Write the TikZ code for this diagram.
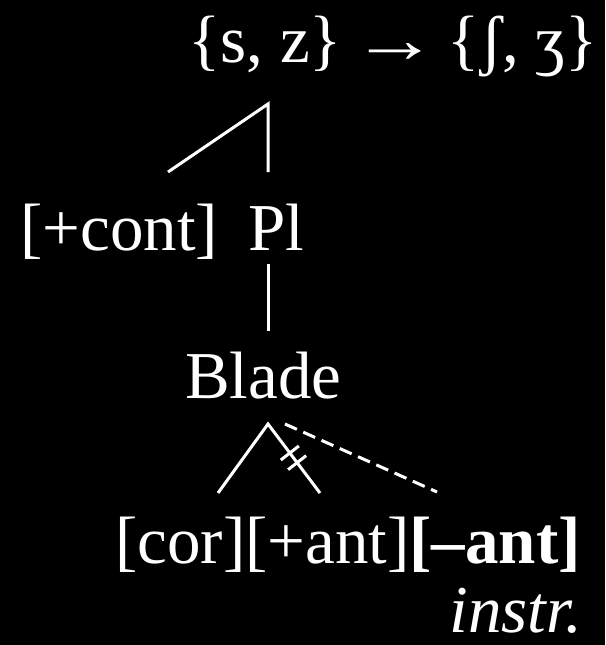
\documentclass[tikz,border=0pt]{standalone}
\usepackage{graphicx}
\usepackage{fontspec}
\setmainfont{Liberation Serif}
\usetikzlibrary{calc}

\begin{document}
\begin{tikzpicture}[x=1pt, y=-1pt,
    feat/.style={text=white, inner sep=0pt, anchor=base west,
                 font=\fontsize{67}{72}\selectfont},
    branch/.style={white, line width=3pt},
    delink/.style={white, line width=3pt, dash pattern=on 13pt off 7pt}
]
    % background and page size
    \fill[black] (0,0) rectangle (605,645);
    \useasboundingbox (0,0) rectangle (605,645);

    % labels
    \node[feat, anchor=base east] (rule) at (598,62)
        {\{s, z\}\hspace{0.14em}\scalebox{1.3}[1]{→}\hspace{0.14em}\{ʃ, ʒ\}};
    \node[feat] (cont)  at (20,250)  {[+cont]};
    \node[feat] (pl)    at (248,250) {Pl};
    \node[feat] (blade) at (185,398) {Blade};
    \node[feat] (feats) at (115,563) {[cor][+ant]\textbf{[--ant]}};
    \node[feat, anchor=base east] (instr) at (582,632) {\textit{instr.}};

    % tree points
    \coordinate (top)   at (268,104);
    \coordinate (contE) at (168,172);
    \coordinate (plE)   at (268,172);
    \coordinate (plB)   at (268,264);
    \coordinate (bladeT) at (268,331);
    \coordinate (bl)    at (268,424);
    \coordinate (corE)  at (218,493);
    \coordinate (antE)  at (320,493);
    \coordinate (dashS) at (285,424);
    \coordinate (mantE) at (437,492);

    \draw[branch] (contE) -- (top) -- (plE);
    \draw[branch] (plB) -- (bladeT);
    \draw[branch] (corE) -- (bl) -- (antE);
    \draw[delink] (dashS) -- (mantE);

    % delinking bars
    \draw[branch] ($(bl)!0.42!(antE)$) ++(-9,7) -- ++(18,-14);
    \draw[branch] ($(bl)!0.56!(antE)$) ++(-9,7) -- ++(18,-14);
\end{tikzpicture}
\end{document}
